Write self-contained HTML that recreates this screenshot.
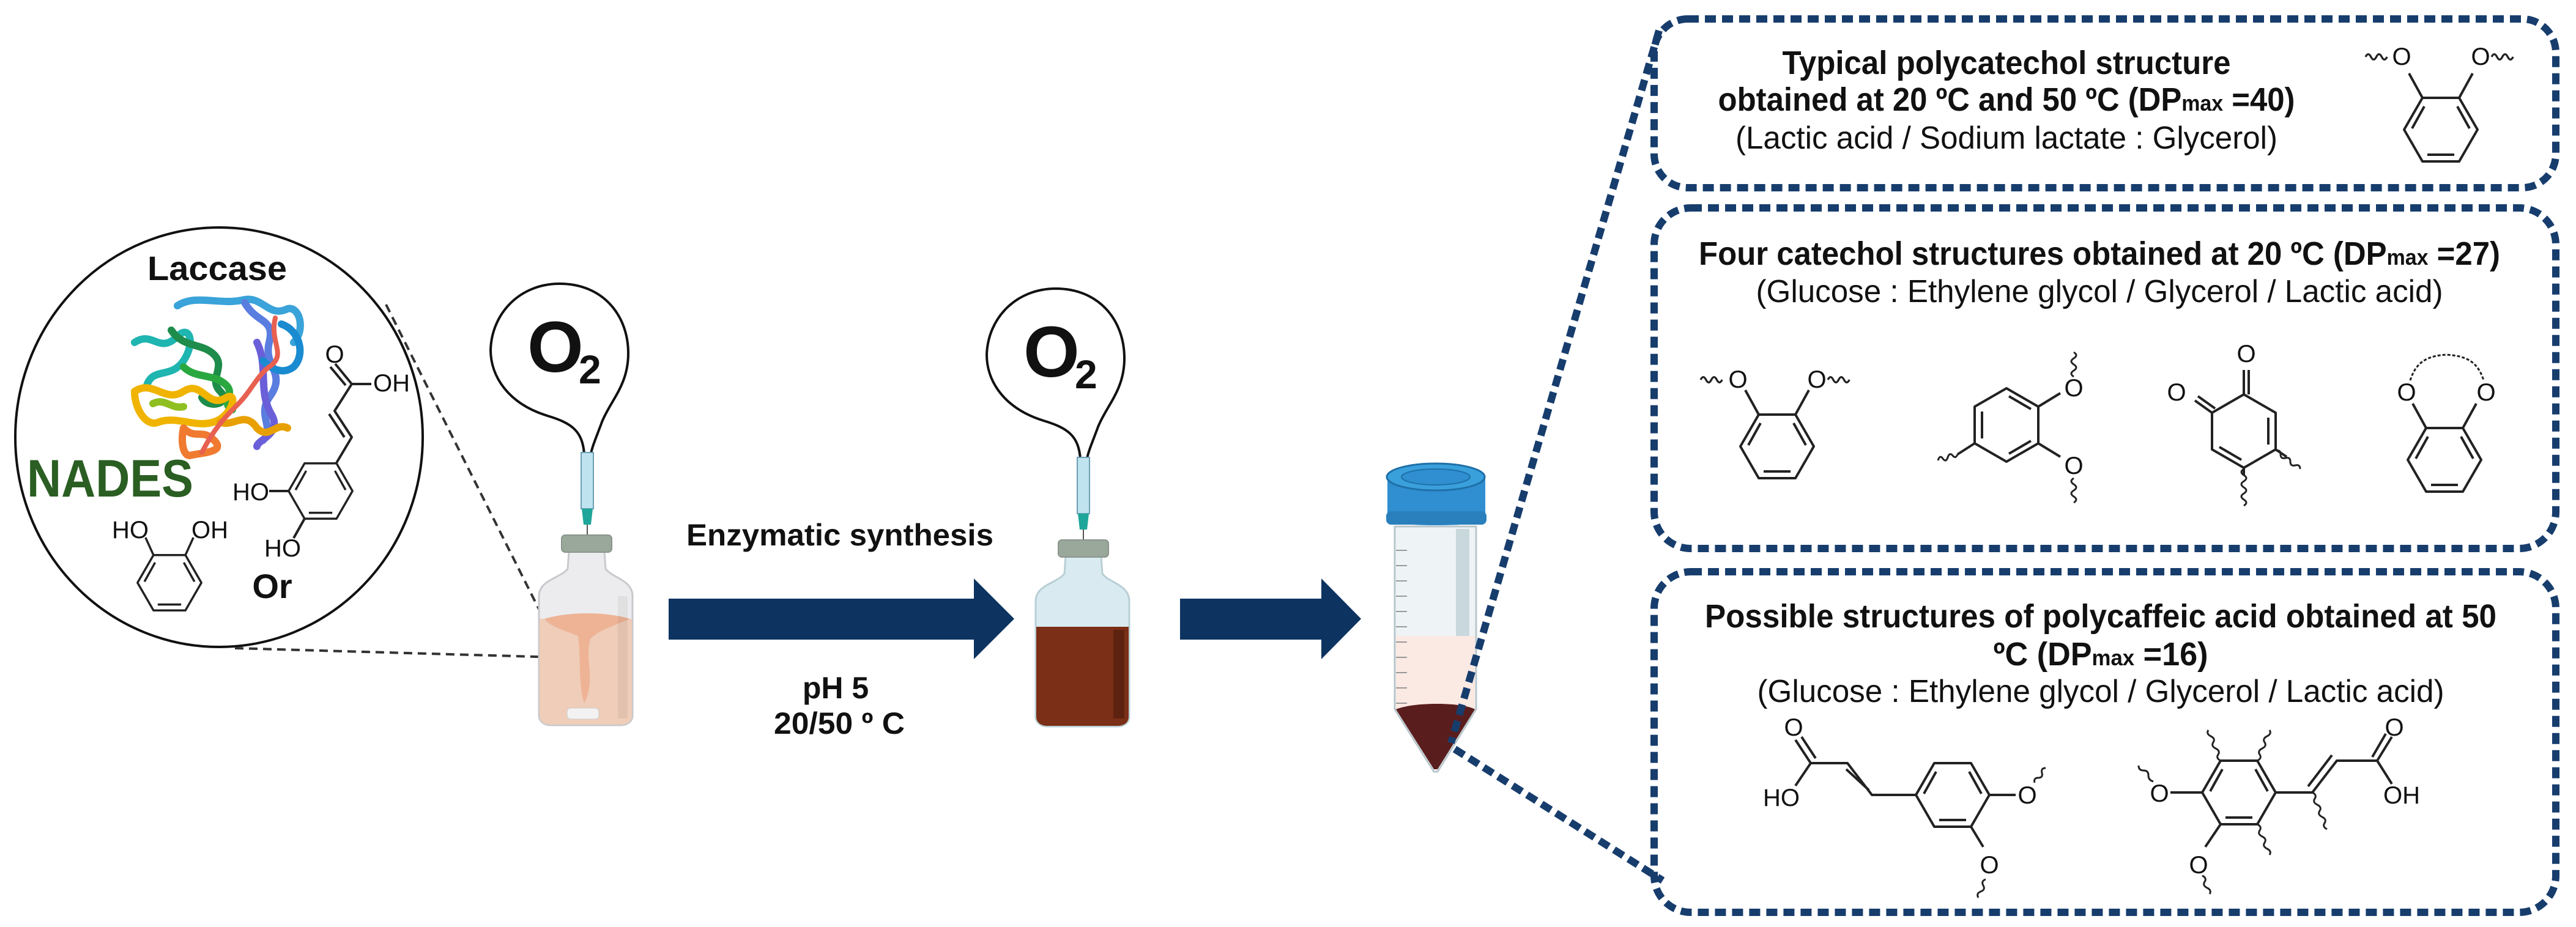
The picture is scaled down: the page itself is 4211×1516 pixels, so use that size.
<!DOCTYPE html>
<html><head><meta charset="utf-8"><style>
html,body{margin:0;padding:0;background:#fff;}
svg{display:block;}
.b{font-family:"Liberation Sans Narrow","Liberation Sans",sans-serif;font-weight:bold;fill:#111;}
.r{font-family:"Liberation Sans Narrow","Liberation Sans",sans-serif;fill:#111;}
.ch{font-family:"Liberation Sans",sans-serif;fill:#111;font-size:40px;}
.ln{stroke:#222;stroke-width:4;fill:none;stroke-linejoin:round;}
.wv{stroke:#222;stroke-width:3;fill:none;}
.box{fill:none;stroke:#173d6d;stroke-width:12;stroke-dasharray:18 10;}
</style></head><body>
<svg width="4211" height="1516" viewBox="0 0 4211 1516" xmlns="http://www.w3.org/2000/svg">
<defs>
<g id="ring">
<path class="ln" d="M-30,-52 L30,-52 L60,0 L30,52 L-30,52 L-60,0 Z"/>
<path class="ln" d="M-47,-2 L-27,-38 M47,-2 L27,-38 M-22,41 L22,41"/>
</g>
<g id="ringP">
<path class="ln" d="M0,-60 L52,-30 L52,30 L0,60 L-52,30 L-52,-30 Z"/>
<path class="ln" d="M-40,-22 L-40,22 M4,-47 L40,-26 M4,47 L40,26"/>
</g>
<path id="wvs" class="wv" d="M0,0 q4,-8 8,0 t8,0 t8,0 t8,0"/>
</defs>

<!-- Left circle -->
<ellipse cx="358" cy="715" rx="333" ry="343" fill="#fff" stroke="#111" stroke-width="4"/>
<line x1="631" y1="498" x2="917" y2="1068" stroke="#333" stroke-width="4" stroke-dasharray="14 9"/>
<line x1="384" y1="1060" x2="912" y2="1075" stroke="#333" stroke-width="4" stroke-dasharray="14 9"/>
<text class="b" x="355" y="458" font-size="56" text-anchor="middle" textLength="228" lengthAdjust="spacingAndGlyphs">Laccase</text>

<!-- protein ribbons -->
<g fill="none" stroke-linecap="round" stroke-width="12">
<path stroke="#3aa3d9" d="M290,500 C320,480 360,500 400,490 C430,485 440,520 470,505 C490,500 500,540 480,560"/>
<path stroke="#5a7de0" d="M400,495 C420,530 450,520 440,560 C430,600 470,610 440,650 C420,680 450,700 430,720"/>
<path stroke="#1fb5b0" d="M220,560 C250,540 260,580 290,550 C310,530 320,560 300,590 C280,620 250,600 240,630"/>
<path stroke="#1e8c4a" d="M280,540 C300,570 330,560 350,580 C370,600 340,620 360,640 C380,660 340,670 330,650"/>
<path stroke="#2aa840" d="M300,600 C320,620 350,610 370,630 C385,645 360,660 380,670"/>
<path stroke="#6a5fd8" d="M420,560 C440,600 420,640 445,680 C460,710 420,720 420,730"/>
<path stroke="#1a8bd0" d="M460,530 C490,540 500,580 480,600 C460,615 440,600 430,590"/>
<path stroke="#f0b400" d="M220,640 C250,620 270,660 300,640 C330,620 340,670 370,650 C390,640 380,680 350,690 C320,700 290,680 260,690 C240,700 220,670 220,640"/>
<path stroke="#e8a000" d="M360,690 C380,700 400,670 420,700 C440,720 450,690 470,700"/>
<path stroke="#f07a30" d="M300,700 C320,720 330,700 350,720 C370,740 330,740 310,745 C300,745 295,725 300,700"/>
<path stroke="#e86050" stroke-width="8" d="M450,520 C440,560 470,580 440,600 C420,615 410,640 390,660 C370,680 350,700 330,740"/>
<path stroke="#8fbf20" d="M250,660 C270,650 280,670 300,665"/>
</g>

<text x="44" y="812" font-family="Liberation Sans Narrow, Liberation Sans, sans-serif" font-weight="bold" font-size="86" fill="#2a5e22" textLength="272" lengthAdjust="spacingAndGlyphs">NADES</text>

<!-- catechol -->
<g transform="translate(277,953) scale(0.87)"><use href="#ring"/>
<path class="ln" d="M-30,-52 L-45,-85 M30,-52 L45,-85"/></g>
<text class="ch" x="213" y="880" text-anchor="middle">HO</text>
<text class="ch" x="343" y="880" text-anchor="middle">OH</text>

<!-- caffeic acid -->
<g transform="translate(524,803) scale(0.87)"><use href="#ring"/></g>
<path class="ln" d="M474,803 L440,803 M498,848 L480,880 M550,757 L575,715 L547,672 L575,628 L548,595 M575,628 L607,628 M563,715 L538,677 M565,630 L540,600"/>
<text class="ch" x="410" y="818" text-anchor="middle">HO</text>
<text class="ch" x="462" y="910" text-anchor="middle">HO</text>
<text class="ch" x="547" y="593" text-anchor="middle">O</text>
<text class="ch" x="640" y="640" text-anchor="middle">OH</text>
<text class="b" x="445" y="978" font-size="56" text-anchor="middle">Or</text>

<!-- Balloons / syringes / vials -->
<g id="bal1">
<path d="M955,742 C952,705 935,692 895,680 C830,660 802,615 802,572 C804,512 850,464 915,464 C985,464 1027,515 1027,578 C1027,630 998,655 984,690 C976,712 968,730 966,742 Z" fill="#fff" stroke="#111" stroke-width="4"/>
<text class="b" x="862" y="608" font-size="118" font-family="Liberation Sans, sans-serif">O</text>
<text class="b" x="946" y="627" font-size="66" font-family="Liberation Sans, sans-serif">2</text>
<rect x="950" y="740" width="20" height="92" fill="#bfe3ef" stroke="#6a9fb5" stroke-width="2"/>
<path d="M951,832 L969,832 L966,858 L954,858 Z" fill="#1fa69a"/>
<line x1="960" y1="858" x2="960" y2="940" stroke="#555" stroke-width="2"/>
</g>
<use href="#bal1" transform="translate(811,8)"/>

<!-- vial 1 -->
<g>
<path d="M930,902 L988,902 L990,930 C1000,945 1034,948 1034,975 L1034,1170 C1034,1180 1025,1186 1015,1186 L900,1186 C890,1186 881,1180 881,1170 L881,975 C881,948 918,945 928,930 Z" fill="#ececee" stroke="#c9c9cd" stroke-width="3"/>
<path d="M882,1012 L1033,1012 L1033,1170 C1033,1180 1025,1185 1015,1185 L900,1185 C890,1185 882,1180 882,1170 Z" fill="#efcdb9"/>
<path d="M890,1012 C930,1000 990,1000 1030,1012 C1000,1025 980,1030 965,1045 C955,1080 975,1110 955,1150 C945,1120 950,1080 945,1040 C920,1030 900,1025 890,1012 Z" fill="#eeb395"/>
<rect x="927" y="1158" width="52" height="18" rx="6" fill="#f2f2f2" stroke="#ccc"/>
<rect x="1010" y="975" width="16" height="200" fill="#000" opacity="0.05"/>
<rect x="918" y="875" width="82" height="28" rx="6" fill="#9aa89c" stroke="#8a958b" stroke-width="2"/>
</g>
<!-- vial 2 -->
<g>
<path d="M1742,910 L1800,910 L1802,938 C1812,953 1846,956 1846,983 L1846,1172 C1846,1182 1837,1188 1827,1188 L1712,1188 C1702,1188 1693,1182 1693,1172 L1693,983 C1693,956 1730,953 1740,938 Z" fill="#d9ebf0" stroke="#b8cfd5" stroke-width="3"/>
<path d="M1694,1025 L1845,1025 L1845,1172 C1845,1182 1837,1187 1827,1187 L1712,1187 C1702,1187 1694,1182 1694,1172 Z" fill="#7b2f16"/>
<rect x="1820" y="1030" width="18" height="145" fill="#5e2210"/>
<rect x="1730" y="883" width="82" height="28" rx="6" fill="#9aa89c" stroke="#8a958b" stroke-width="2"/>
</g>

<!-- arrows -->
<path d="M1093,979 L1592,979 L1592,946 L1658,1012 L1592,1078 L1592,1046 L1093,1046 Z" fill="#0d3461"/>
<path d="M1929,979 L2160,979 L2160,946 L2225,1012 L2160,1078 L2160,1046 L1929,1046 Z" fill="#0d3461"/>
<text class="b" x="1373" y="892" font-size="50" text-anchor="middle" textLength="502" lengthAdjust="spacingAndGlyphs">Enzymatic synthesis</text>
<text class="b" x="1366" y="1142" font-size="50" text-anchor="middle">pH 5</text>
<text class="b" x="1372" y="1200" font-size="50" text-anchor="middle" textLength="214" lengthAdjust="spacingAndGlyphs">20/50 º C</text>

<!-- tube -->
<g>
<path d="M2280,861 L2413,861 L2413,1160 L2350,1262 L2344,1262 L2280,1160 Z" fill="#eef4f6" stroke="#b9c7cc" stroke-width="3"/>
<rect x="2380" y="865" width="22" height="240" fill="#c9d8dd"/>
<path d="M2282,1040 L2411,1040 L2411,1160 L2282,1160 Z" fill="#fbe9e3"/>
<path d="M2282,1160 C2310,1148 2390,1148 2411,1160 L2350,1258 L2344,1258 Z" fill="#5a1d1d"/>
<g stroke="#999" stroke-width="2">
<line x1="2282" y1="900" x2="2300" y2="900"/><line x1="2282" y1="925" x2="2300" y2="925"/><line x1="2282" y1="950" x2="2300" y2="950"/><line x1="2282" y1="975" x2="2300" y2="975"/><line x1="2282" y1="1000" x2="2300" y2="1000"/><line x1="2282" y1="1025" x2="2300" y2="1025"/><line x1="2282" y1="1050" x2="2300" y2="1050"/><line x1="2282" y1="1075" x2="2300" y2="1075"/><line x1="2282" y1="1100" x2="2300" y2="1100"/><line x1="2282" y1="1125" x2="2300" y2="1125"/><line x1="2282" y1="1150" x2="2300" y2="1150"/>
</g>
<path d="M2268,782 L2268,850 C2268,862 2428,862 2428,850 L2428,782 Z" fill="#2f8fd0"/>
<rect x="2266" y="836" width="164" height="22" rx="8" fill="#2a80bd"/>
<ellipse cx="2347" cy="780" rx="80" ry="22" fill="#3aa0dc" stroke="#1f70a8" stroke-width="3"/>
<ellipse cx="2347" cy="780" rx="56" ry="13" fill="#2f8fd0" stroke="#1f70a8" stroke-width="2"/>
</g>

<!-- connectors -->
<line x1="2712" y1="50" x2="2372" y2="1215" stroke="#173d6d" stroke-width="12" stroke-dasharray="18 10"/>
<line x1="2378" y1="1225" x2="2718" y2="1440" stroke="#173d6d" stroke-width="12" stroke-dasharray="18 10"/>

<!-- boxes -->
<rect class="box" x="2704" y="31" width="1474" height="276" rx="55"/>
<rect class="box" x="2704" y="340" width="1474" height="557" rx="60"/>
<rect class="box" x="2704" y="935" width="1474" height="557" rx="60"/>

<!-- box1 text -->
<text class="b" x="3280" y="121" font-size="54" text-anchor="middle" textLength="733" lengthAdjust="spacingAndGlyphs">Typical polycatechol structure</text>
<text class="b" x="3280" y="181" font-size="54" text-anchor="middle" textLength="943" lengthAdjust="spacingAndGlyphs">obtained at 20 ºC and 50 ºC (DP<tspan font-size="36">max</tspan> =40)</text>
<text class="r" x="3280" y="243" font-size="52" text-anchor="middle" textLength="886" lengthAdjust="spacingAndGlyphs">(Lactic acid / Sodium lactate : Glycerol)</text>
<g transform="translate(3990,212)"><use href="#ring"/><path class="ln" d="M-30,-52 L-52,-92 M30,-52 L52,-92"/></g>
<text class="ch" x="3926" y="106" text-anchor="middle">O</text>
<text class="ch" x="4055" y="106" text-anchor="middle">O</text>
<use href="#wvs" transform="translate(3867,93) scale(1.1)"/>
<use href="#wvs" transform="translate(4073,93) scale(1.1)"/>

<!-- box2 text -->
<text class="b" x="3432" y="433" font-size="54" text-anchor="middle" textLength="1310" lengthAdjust="spacingAndGlyphs">Four catechol structures obtained at 20 ºC (DP<tspan font-size="36">max</tspan> =27)</text>
<text class="r" x="3432" y="494" font-size="52" text-anchor="middle" textLength="1123" lengthAdjust="spacingAndGlyphs">(Glucose : Ethylene glycol / Glycerol / Lactic acid)</text>

<!-- mol 1 -->
<g transform="translate(2905,730)"><use href="#ring"/><path class="ln" d="M-30,-52 L-52,-92 M30,-52 L52,-92"/></g>
<text class="ch" x="2841" y="634" text-anchor="middle">O</text>
<text class="ch" x="2970" y="634" text-anchor="middle">O</text>
<use href="#wvs" transform="translate(2780,621) scale(1.1)"/>
<use href="#wvs" transform="translate(2988,621) scale(1.1)"/>
<!-- mol 2 -->
<g transform="translate(3280,695)"><use href="#ringP"/><path class="ln" d="M52,-30 L88,-52 M52,30 L88,52 M-52,30 L-80,48"/></g>
<text class="ch" x="3390" y="648" text-anchor="middle">O</text>
<text class="ch" x="3390" y="775" text-anchor="middle">O</text>
<path class="wv" d="M3390,616 q-8,-5 0,-10 t0,-10 t0,-10 t0,-10"/>
<path class="wv" d="M3390,782 q-8,5 0,10 t0,10 t0,10 t0,10"/>
<path class="wv" d="M3200,743 q-3,8 -8,2 t-8,3 t-8,2 t-8,3"/>
<!-- mol 3 quinone -->
<g transform="translate(3668,705)">
<path class="ln" d="M0,-60 L52,-30 L52,30 L0,60 L-52,30 L-52,-30 Z M40,-22 L40,22 M-4,47 L-40,26 M0,-60 L0,-100 M8,-60 L8,-100 M-52,-30 L-80,-50 M-47,-37 L-75,-57 M0,60 L0,72 M52,30 L70,42"/>
</g>
<text class="ch" x="3672" y="592" text-anchor="middle">O</text>
<text class="ch" x="3558" y="655" text-anchor="middle">O</text>
<path class="wv" d="M3668,767 q-8,5 0,10 t0,10 t0,10 t0,10 t0,10 t0,10"/>
<path class="wv" d="M3720,737 q8,-2 8,6 t8,6 t8,6 t8,6 t8,6"/>
<!-- mol 4 -->
<g transform="translate(3996,752)"><use href="#ring"/><path class="ln" d="M-30,-52 L-52,-92 M30,-52 L52,-92"/></g>
<text class="ch" x="3934" y="655" text-anchor="middle">O</text>
<text class="ch" x="4064" y="655" text-anchor="middle">O</text>
<path class="wv" d="M3940,622 C3950,590 3970,582 3999,580 C4030,582 4050,590 4060,622" stroke-dasharray="5 3"/>

<!-- box3 text -->
<text class="b" x="3434" y="1026" font-size="54" text-anchor="middle" textLength="1294" lengthAdjust="spacingAndGlyphs">Possible structures of polycaffeic acid obtained at 50</text>
<text class="b" x="3434" y="1088" font-size="54" text-anchor="middle" textLength="351" lengthAdjust="spacingAndGlyphs">ºC (DP<tspan font-size="36">max</tspan> =16)</text>
<text class="r" x="3434" y="1148" font-size="52" text-anchor="middle" textLength="1123" lengthAdjust="spacingAndGlyphs">(Glucose : Ethylene glycol / Glycerol / Lactic acid)</text>

<!-- mol A -->
<g transform="translate(3192,1300)"><use href="#ring"/></g>
<path class="ln" d="M3252,1300 L3295,1300 M3222,1352 L3242,1385 M3132,1300 L3060,1300 L3020,1248 L2960,1248 M3055,1292 L3018,1258 M2960,1248 L2935,1210 M2968,1240 L2945,1205 M2960,1248 L2935,1285"/>
<text class="ch" x="3314" y="1314" text-anchor="middle">O</text>
<text class="ch" x="3252" y="1428" text-anchor="middle">O</text>
<text class="ch" x="2932" y="1203" text-anchor="middle">O</text>
<text class="ch" x="2912" y="1318" text-anchor="middle">HO</text>
<path class="wv" d="M3326,1280 q-2,-8 6,-8 t6,-8 t6,-8"/>
<path class="wv" d="M3246,1438 q-8,3 -4,10 t-4,10 t-4,10"/>
<!-- mol B -->
<g transform="translate(3660,1296)"><use href="#ring"/></g>
<path class="ln" d="M3600,1296 L3548,1296 M3630,1348 L3605,1385 M3720,1296 L3780,1296 L3820,1244 L3886,1244 L3910,1205 M3878,1238 L3900,1200 M3886,1244 L3910,1282 M3773,1286 L3812,1235"/>
<path class="wv" d="M3630,1244 q-8,-4 -4,-10 t-4,-10 t-4,-10 t-4,-10 t-4,-10"/>
<path class="wv" d="M3690,1244 q8,-4 4,-10 t4,-10 t4,-10 t4,-10 t4,-10"/>
<path class="wv" d="M3690,1348 q8,4 4,10 t4,10 t4,10 t4,10 t4,10"/>
<path class="wv" d="M3780,1296 q8,4 4,10 t4,10 t4,10 t4,10 t4,10 t4,10"/>
<path class="wv" d="M3520,1278 q-8,-2 -8,-10 t-8,-8 t-8,-8"/>
<path class="wv" d="M3600,1432 q8,4 4,10 t4,10 t4,10"/>
<text class="ch" x="3530" y="1311" text-anchor="middle">O</text>
<text class="ch" x="3594" y="1428" text-anchor="middle">O</text>
<text class="ch" x="3914" y="1203" text-anchor="middle">O</text>
<text class="ch" x="3926" y="1314" text-anchor="middle">OH</text>
</svg>
</body></html>
